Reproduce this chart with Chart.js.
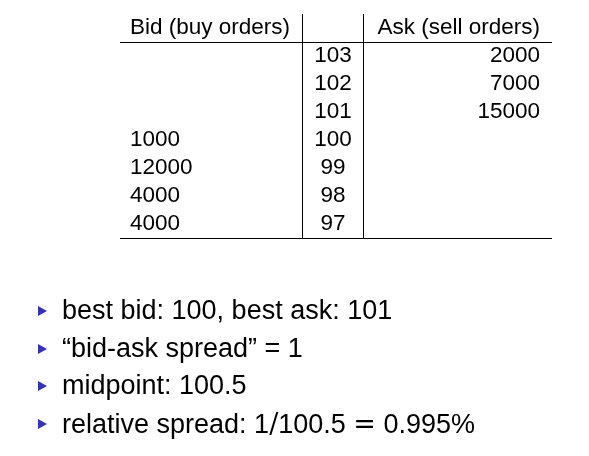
<!DOCTYPE html>
<html><head><meta charset="utf-8">
<script src="https://cdn.jsdelivr.net/npm/chart.js@4/dist/chart.umd.min.js"></script>
<style>
html,body{margin:0;padding:0;background:#fff;width:589px;height:456px;overflow:hidden;font-family:"Liberation Sans",Arial,sans-serif;}
#wrap{position:absolute;left:0;top:0;width:589px;height:456px;}
ul{position:absolute;left:0;top:292px;margin:0;padding:0;list-style:none;font-size:27px;color:#000;}
li{position:relative;padding-left:62px;height:37.5px;line-height:37.5px;}
li:before{content:"";position:absolute;left:38px;top:14px;border-left:9px solid #3434b0;border-top:5px solid transparent;border-bottom:5px solid transparent;}
</style></head><body>
<div id="wrap"><canvas id="c" width="589" height="456"></canvas></div>
<ul>
<li>best bid: 100, best ask: 101</li>
<li>“bid-ask spread” = 1</li>
<li>midpoint: 100.5</li>
<li>relative spread: 1<span style="font-family:'DejaVu Serif',serif">/</span>100.5 <span style="font-family:'DejaVu Serif',serif">=</span> 0.995%</li>
</ul>
<script>
const headers = ["Bid (buy orders)", "", "Ask (sell orders)"];
const prices = [103, 102, 101, 100, 99, 98, 97];
const bids = [null, null, null, 1000, 12000, 4000, 4000];
const asks = [2000, 7000, 15000, null, null, null, null];

const tablePlugin = {
  id: 'table',
  afterDraw(chart) {
    const ctx = chart.ctx, y = chart.scales.y, x = chart.scales.x;
    const X = v => x.getPixelForValue(v), Y = v => y.getPixelForValue(v);
    ctx.save();
    ctx.fillStyle = '#000';
    ctx.font = '22.5px "Liberation Sans", Arial, sans-serif';
    ctx.textBaseline = 'middle';
    ctx.textAlign = 'left'; ctx.fillText(headers[0], X(130), Y(0));
    ctx.textAlign = 'right'; ctx.fillText(headers[2], X(540), Y(0));
    prices.forEach((p, i) => {
      const yy = Y(i + 1);
      ctx.textAlign = 'center'; ctx.fillText(String(p), X(333), yy);
      if (bids[i] != null) { ctx.textAlign = 'left'; ctx.fillText(String(bids[i]), X(130), yy); }
      if (asks[i] != null) { ctx.textAlign = 'right'; ctx.fillText(String(asks[i]), X(540), yy); }
    });
    ctx.strokeStyle = '#000'; ctx.lineWidth = 1;
    const top = Y(-0.5), hdr = Y(0.5), bot = Y(prices.length + 0.5);
    ctx.beginPath();
    ctx.moveTo(X(120), hdr + 0.5); ctx.lineTo(X(552), hdr + 0.5);
    ctx.moveTo(X(120), bot + 0.5); ctx.lineTo(X(552), bot + 0.5);
    ctx.moveTo(X(302) + 0.5, top); ctx.lineTo(X(302) + 0.5, bot);
    ctx.moveTo(X(363) + 0.5, top); ctx.lineTo(X(363) + 0.5, bot);
    ctx.stroke();
    ctx.restore();
  }
};

new Chart(document.getElementById('c'), {
  type: 'scatter',
  data: { datasets: [{ data: prices.map((p, i) => ({ x: 333, y: i + 1 })), pointRadius: 0 }] },
  options: {
    responsive: false, animation: false,
    layout: { padding: 0 },
    plugins: { legend: { display: false }, tooltip: { enabled: false } },
    scales: {
      x: { type: 'linear', min: 0, max: 589, display: false },
      y: { type: 'linear', reverse: true, min: -1, max: 456 / 28 - 1, display: false }
    }
  },
  plugins: [tablePlugin]
});
</script>
</body></html>
